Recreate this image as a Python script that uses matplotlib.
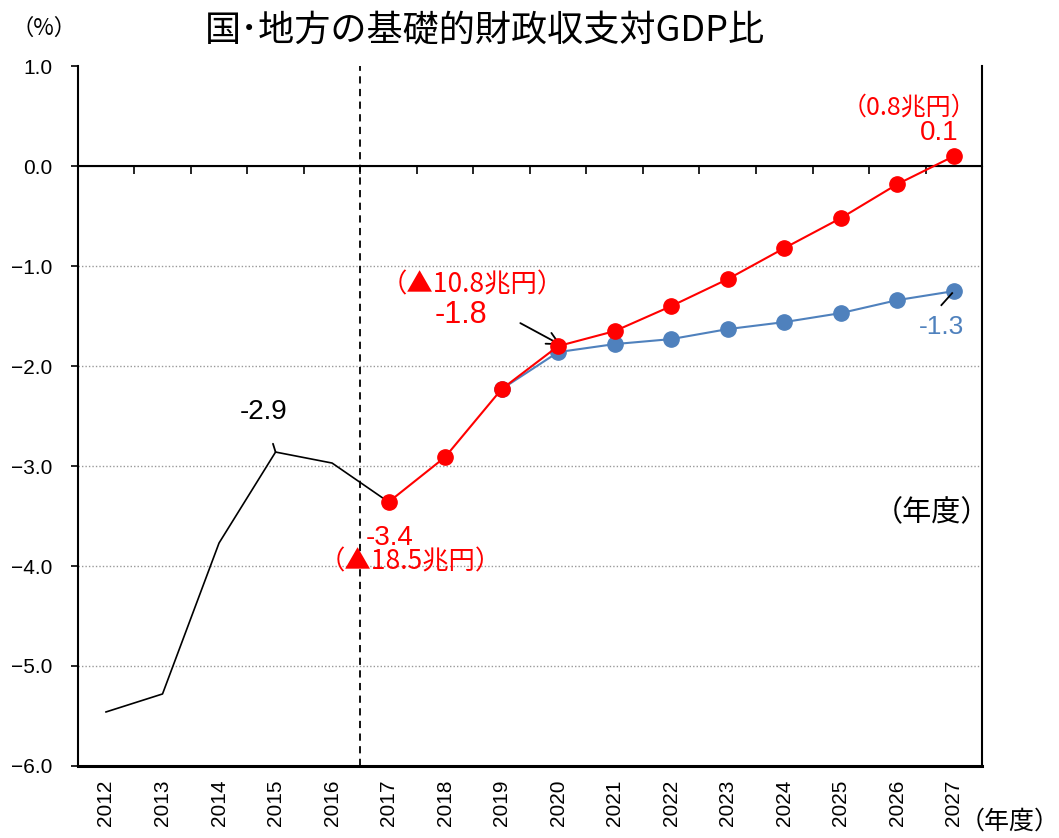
import matplotlib
matplotlib.use('Agg')
import matplotlib.pyplot as plt

plt.rcParams['font.family'] = ['Liberation Sans', 'Noto Sans CJK JP', 'DejaVu Sans']

years = [str(y) for y in range(2012, 2028)]
actual = [-5.46, -5.28, -3.77, -2.86, -2.97, -3.36]          # 2012-2017
growth = [-3.36, -2.91, -2.23, -1.80, -1.65, -1.40, -1.13, -0.82, -0.52, -0.18, 0.10]  # 2017-2027
baseline = [-2.23, -1.86, -1.78, -1.73, -1.63, -1.56, -1.47, -1.34, -1.25]             # 2019-2027
y_ticks = [1, 0, -1, -2, -3, -4, -5, -6]

x_all = list(range(len(years)))
x_actual = x_all[:6]
x_growth = x_all[5:]
x_base = x_all[7:]

red = '#ff0000'
blue = '#4f81bd'
jp = ['Noto Sans CJK JP', 'DejaVu Sans']

fig = plt.figure(figsize=(10.59, 8.38), dpi=100)
ax = fig.add_axes([0.0734, 0.086, 0.854, 0.835])

ax.set_xlim(-0.5, 15.5)
ax.set_ylim(-6.0, 1.0)

for v in [-1, -2, -3, -4, -5]:
    ax.axhline(v, color='#999999', lw=1.0, ls=(0, (1, 1.5)), zorder=1)
ax.axhline(0, color='black', lw=1.5, zorder=2)
ax.axvline(4.5, color='black', lw=1.3, ls=(0, (4, 3)), zorder=2)

ax.plot(x_actual, actual, color='black', lw=1.2, zorder=3)
ax.plot(x_base, baseline, color=blue, lw=1.5, marker='o', ms=11, zorder=4)
ax.plot(x_growth, growth, color=red, lw=1.5, marker='o', ms=11, zorder=5)

# axes styling
ax.set_yticks(y_ticks)
ax.set_yticklabels([f'{v:.1f}'.replace('-', '\u2212') for v in y_ticks], fontsize=15)
ax.tick_params(axis='y', direction='out', length=5, width=1.2, pad=13)
ax.set_xticks(x_all)
ax.set_xticklabels(years, rotation=90, fontsize=15)
ax.tick_params(axis='x', length=0, pad=10)
for s in ['left', 'right']:
    ax.spines[s].set_linewidth(1.5)
ax.spines['bottom'].set_linewidth(2.2)
ax.spines['top'].set_visible(False)

# small ticks on the zero line at category boundaries
sec = ax.secondary_xaxis(6 / 7)
sec.set_xticks([i + 0.5 for i in x_all[:-1]])
sec.set_xticklabels([])
sec.tick_params(direction='in', length=6, width=1.2)
sec.spines['bottom'].set_visible(False)

# texts
fig.text(0.458, 0.963, '国･地方の基礎的財政収支対GDP比', fontsize=26, ha='center', va='center', family=jp)
fig.text(0.042, 0.966, '（%）', fontsize=16, ha='center', va='center', family=jp)
fig.text(0.953, 0.019, '（年度）', fontsize=18, ha='center', va='center', family=jp)
ax.text(14.62, -3.47, '（年度）', fontsize=21, ha='center', va='center', family=jp)

ax.annotate('-2.9', xy=(x_actual[3], actual[3]), xytext=(2.78, -2.46), fontsize=20,
            ha='center', va='center', arrowprops=dict(arrowstyle='-', color='black', lw=1.3,
                                                      shrinkA=12, shrinkB=0))
ax.text(5.02, -3.72, '-3.4', fontsize=20, color=red, ha='center', va='center')
ax.text(5.38, -3.96, '（▲18.5兆円）', fontsize=19, color=red, ha='center', va='center', family=jp)
ax.text(6.48, -1.19, '（▲10.8兆円）', fontsize=19, color=red, ha='center', va='center', family=jp)
ax.text(6.28, -1.49, '-1.8', fontsize=22, color=red, ha='center', va='center')
ax.annotate('', xy=(8.05, -1.79), xytext=(7.33, -1.57),
            arrowprops=dict(arrowstyle='->', color='black', lw=1.3, mutation_scale=22,
                            shrinkA=0, shrinkB=0))
ax.text(14.21, 0.59, '（0.8兆円）', fontsize=18, color=red, ha='center', va='center', family=jp)
ax.text(14.74, 0.33, '0.1', fontsize=20, color=red, ha='center', va='center')
ax.text(14.78, -1.61, '-1.3', fontsize=19, color=blue, ha='center', va='center')
ax.plot([14.78, 14.97], [-1.39, -1.27], color='black', lw=1.3, zorder=6)

fig.savefig('out.png', dpi=100)
